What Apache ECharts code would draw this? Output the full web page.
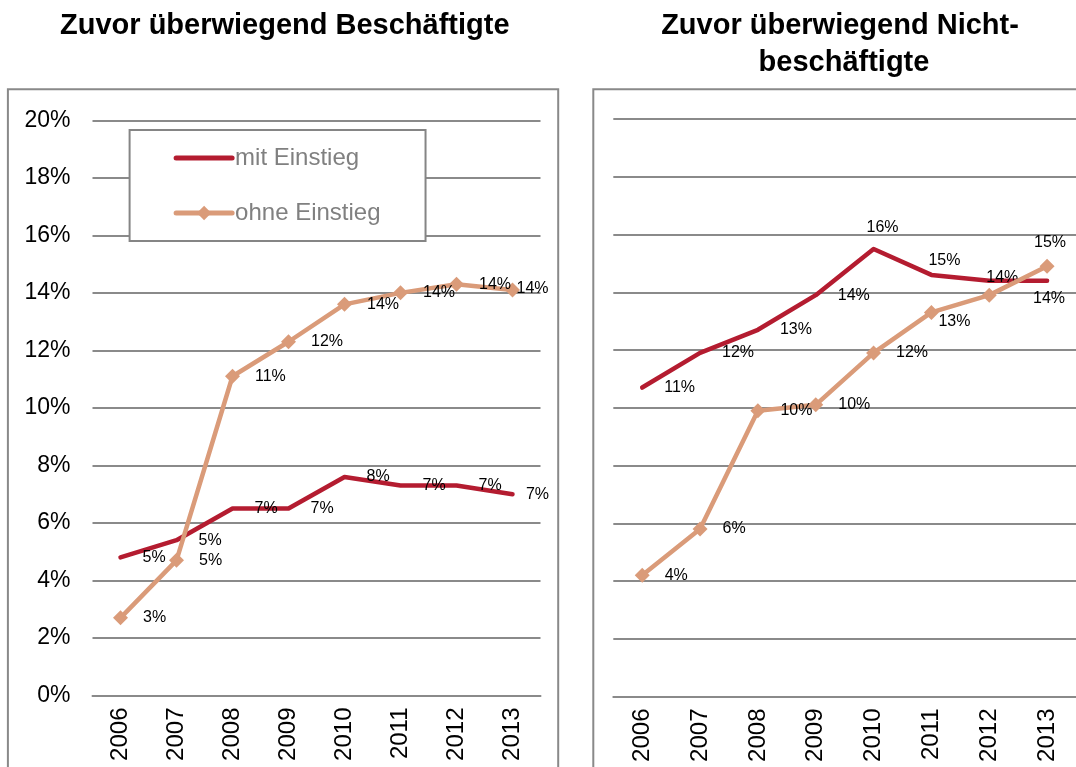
<!DOCTYPE html>
<html>
<head>
<meta charset="utf-8">
<style>
  html, body { margin: 0; padding: 0; background: #ffffff; }
  #chart { width: 1076px; height: 767px; }
</style>
<script src="https://cdn.jsdelivr.net/npm/echarts@6/dist/echarts.min.js"></script>
</head>
<body>
<div id="chart"></div>
<script>
// Years on the category axis
const years = ['2006', '2007', '2008', '2009', '2010', '2011', '2012', '2013'];

// Panel titles
const titleLeft = 'Zuvor überwiegend Beschäftigte';
const titleRightLine1 = 'Zuvor überwiegend Nicht-';
const titleRightLine2 = 'beschäftigte';

// Series names
const nameMit = 'mit Einstieg';
const nameOhne = 'ohne Einstieg';

// Shares in percent — previously mainly employed
const mitEinstiegBeschaeftigte = [4.8, 5.4, 6.5, 6.5, 7.6, 7.3, 7.3, 7.0];
const ohneEinstiegBeschaeftigte = [2.7, 4.7, 11.1, 12.3, 13.6, 14.0, 14.3, 14.1];

// Shares in percent — previously mainly not employed
const mitEinstiegNicht = [10.7, 11.9, 12.7, 13.9, 15.5, 14.6, 14.4, 14.4];
const ohneEinstiegNicht = [4.2, 5.8, 9.9, 10.1, 11.9, 13.3, 13.9, 14.9];

// Value axis range
const yMin = 0, yMax = 20, yStep = 2;

// Label placement tweaks per point: [dx, dy] from the point to the label centre,
// null hides the label (it would sit on top of another one)
const tweaksMitLeft = { 7: [25, 0] };
const tweaksOhneLeft = { 7: [20, -1] };
const tweaksMitRight = { 4: [9, -21], 5: [13, -14], 6: [13, -3], 7: [2, 18] };
const tweaksOhneRight = { 5: [23, 9], 6: null, 7: [3, -24] };

const RED = '#b41c30';
const SALMON = '#da9b79';
const GRID_GRAY = '#8a8a8a';
const FONT = '"Liberation Sans", Arial, Helvetica, sans-serif';

function buildData(values, tweaks) {
  return values.map(function (v, i) {
    if (!(i in tweaks)) return v;
    const t = tweaks[i];
    if (t === null) return { value: v, label: { show: false } };
    return { value: v, label: { position: 'inside', offset: t } };
  });
}

function pctLabel(p) { return Math.round(p.value) + '%'; }

function lineSeries(name, values, tweaks, idx, isSalmon) {
  const c = isSalmon ? SALMON : RED;
  return {
    name: name,
    type: 'line',
    xAxisIndex: idx,
    yAxisIndex: idx,
    data: buildData(values, tweaks),
    color: c,
    symbol: isSalmon ? 'diamond' : 'circle',
    symbolSize: isSalmon ? 15 : 2,
    showSymbol: true,
    lineStyle: { width: 4.5, color: c, cap: 'round', join: 'round' },
    itemStyle: { color: c },
    label: {
      show: true,
      position: 'right',
      distance: isSalmon ? 15 : 21,
      formatter: pctLabel,
      color: '#000',
      fontSize: 16,
      fontFamily: FONT
    },
    emphasis: { disabled: true },
    z: isSalmon ? 3 : 2
  };
}

function xAxisDef(idx) {
  return {
    type: 'category',
    gridIndex: idx,
    data: years,
    boundaryGap: true,
    axisTick: { show: false },
    axisLine: { show: true, lineStyle: { color: GRID_GRAY, width: 2 } },
    axisLabel: { rotate: 90, margin: 12, fontSize: 24, color: '#000', fontFamily: FONT }
  };
}

function yAxisDef(idx, showLabels) {
  return {
    type: 'value',
    gridIndex: idx,
    min: yMin, max: yMax, interval: yStep,
    axisLine: { show: false },
    axisTick: { show: false },
    splitLine: { show: true, lineStyle: { color: GRID_GRAY, width: 2 } },
    axisLabel: {
      show: showLabels,
      formatter: '{value}%',
      margin: 22,
      fontSize: 23,
      color: '#000',
      fontFamily: FONT
    }
  };
}

const chart = echarts.init(document.getElementById('chart'), null, { renderer: 'canvas' });

chart.setOption({
  animation: false,
  backgroundColor: '#ffffff',
  textStyle: { fontFamily: FONT },
  grid: [
    { left: 92.5, top: 120.3, width: 448, height: 575.2, containLabel: false },
    { left: 613.3, top: 119, width: 468, height: 577.5, containLabel: false }
  ],
  xAxis: [xAxisDef(0), xAxisDef(1)],
  yAxis: [yAxisDef(0, true), yAxisDef(1, false)],
  legend: {
    data: [
      { name: nameMit, itemStyle: { opacity: 0 } },
      { name: nameOhne }
    ],
    orient: 'vertical',
    left: 129.6,
    top: 130,
    padding: [16, 45, 16, 44],
    itemGap: 31,
    itemWidth: 56,
    itemHeight: 18,
    lineStyle: { width: 5, cap: 'round' },
    borderColor: '#858585',
    borderWidth: 2,
    backgroundColor: '#ffffff',
    textStyle: { fontSize: 24, color: '#808080', fontFamily: FONT, padding: [0, 0, 0, -2] },
    selectedMode: false
  },
  graphic: [
    {
      type: 'rect', z: -10, silent: true,
      shape: { x: 7.9, y: 89.3, width: 550.3, height: 720 },
      style: { fill: 'none', stroke: '#898989', lineWidth: 2 }
    },
    {
      type: 'rect', z: -10, silent: true,
      shape: { x: 593.3, y: 89.3, width: 600, height: 720 },
      style: { fill: 'none', stroke: '#898989', lineWidth: 2 }
    },
    {
      type: 'text', x: 284.8, y: 26, silent: true,
      style: {
        text: titleLeft, fill: '#000', font: 'bold 29px ' + FONT,
        textAlign: 'center', textVerticalAlign: 'middle', align: 'center', verticalAlign: 'middle'
      }
    },
    {
      type: 'text', x: 840, y: 26, silent: true,
      style: {
        text: titleRightLine1, fill: '#000', font: 'bold 29px ' + FONT,
        textAlign: 'center', textVerticalAlign: 'middle', align: 'center', verticalAlign: 'middle'
      }
    },
    {
      type: 'text', x: 844, y: 63, silent: true,
      style: {
        text: titleRightLine2, fill: '#000', font: 'bold 29px ' + FONT,
        textAlign: 'center', textVerticalAlign: 'middle', align: 'center', verticalAlign: 'middle'
      }
    }
  ],
  series: [
    lineSeries(nameMit, mitEinstiegBeschaeftigte, tweaksMitLeft, 0, false),
    lineSeries(nameOhne, ohneEinstiegBeschaeftigte, tweaksOhneLeft, 0, true),
    lineSeries(nameMit, mitEinstiegNicht, tweaksMitRight, 1, false),
    lineSeries(nameOhne, ohneEinstiegNicht, tweaksOhneRight, 1, true)
  ]
});
</script>
</body>
</html>
